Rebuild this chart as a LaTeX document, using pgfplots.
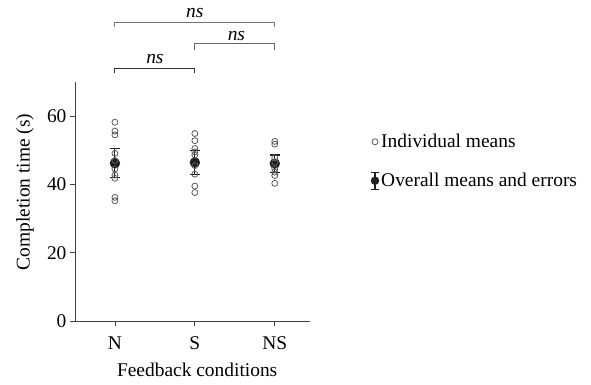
\documentclass[border=0pt]{standalone}
\usepackage{pgfplots}
\pgfplotsset{compat=1.18}
\usepackage{fontspec}
\setmainfont{Liberation Serif}
\definecolor{indiv}{gray}{0.35}
\begin{document}
\begin{tikzpicture}[font=\fontsize{19.5}{23}\selectfont]
\begin{axis}[
  scale only axis, width=235bp, height=239bp,
  xmin=-0.5, xmax=2.44, ymin=0, ymax=70,
  axis x line*=bottom, axis y line*=left,
  axis line style={-, black!75, line width=0.8pt},
  xtick={0,1,2}, xticklabels={N,S,NS},
  xticklabel style={yshift=-7bp},
  ytick={0,20,40,60},
  tick align=outside, major tick length=5bp,
  tick style={black!75, line width=0.8pt},
  /pgf/number format/assume math mode=true,
  xlabel={Feedback conditions}, ylabel={Completion time (s)},
  xlabel style={at={(axis description cs:0.52,-0.205)}, anchor=center},
  ylabel style={at={(axis description cs:-0.213,0.54)}, anchor=center},
  clip=false,
  legend style={draw=none, fill=none, at={(axis description cs:1.258,0.79)}, anchor=north west,
    row sep=20pt, font=\fontsize{19.5}{23}\selectfont, inner sep=0pt},
  legend cell align=left,
]
\addplot[forget plot, only marks, mark=*, mark size=5pt, black!88,
  error bars/.cd, y dir=both, y explicit,
  error bar style={line width=1.1pt, black!88},
  error mark options={rotate=90, mark size=5bp, line width=1.1pt, black!88},
  ] coordinates {
 (0,46.2) +- (0,4.3)
 (1,46.4) +- (0,3.4)
 (2,46.1) +- (0,2.5)
};
\addplot[only marks, mark=o, mark size=3pt, indiv, mark options={line width=0.8pt},
  legend image code/.code={\draw[indiv, line width=0.8pt] (0.2cm,0) circle (3pt);}] coordinates {
 (0,58.2) (0,55.6) (0,54.5) (0,49.1) (0,47.0) (0,44.5) (0,42.7) (0,41.8) (0,36.2) (0,35.2)
 (1,54.9) (1,52.8) (1,50.5) (1,49.5) (1,48.6) (1,45.5) (1,43.0) (1,39.5) (1,37.6)
 (2,52.6) (2,51.8) (2,47.8) (2,46.5) (2,44.5) (2,43.6) (2,42.6) (2,40.3)
};
\addlegendentry{Individual means}
\addlegendimage{legend image code/.code={
  \draw[black!88, line width=1.1pt] (0.2cm,-0.3cm)--(0.2cm,0.3cm);
  \draw[black!88, line width=1.1pt] (0.07cm,-0.3cm)--(0.33cm,-0.3cm);
  \draw[black!88, line width=1.1pt] (0.07cm,0.3cm)--(0.33cm,0.3cm);
  \fill[black!88] (0.2cm,0) circle (4pt);}}
\addlegendentry{Overall means and errors}
% significance brackets
\draw[black!55, line width=0.9pt] (axis cs:0,86.1) -- (axis cs:0,87.3) -- (axis cs:2,87.3) -- (axis cs:2,86.1);
\node[font=\itshape\fontsize{19.5}{23}\selectfont] at (axis cs:1,90.3) {ns};
\draw[black!60, line width=0.9pt] (axis cs:1,79.3) -- (axis cs:1,81.3) -- (axis cs:2,81.3) -- (axis cs:2,79.3);
\node[font=\itshape\fontsize{19.5}{23}\selectfont] at (axis cs:1.52,83.6) {ns};
\draw[black!80, line width=0.9pt] (axis cs:0,72.7) -- (axis cs:0,74.1) -- (axis cs:1,74.1) -- (axis cs:1,72.7);
\node[font=\itshape\fontsize{19.5}{23}\selectfont] at (axis cs:0.5,76.6) {ns};
\coordinate (bl) at (rel axis cs:-0.319,-0.264);
\coordinate (tr) at (rel axis cs:2.196,1.343);
\end{axis}
\pgfresetboundingbox
\path[use as bounding box] (bl) rectangle (tr);
\end{tikzpicture}
\end{document}
